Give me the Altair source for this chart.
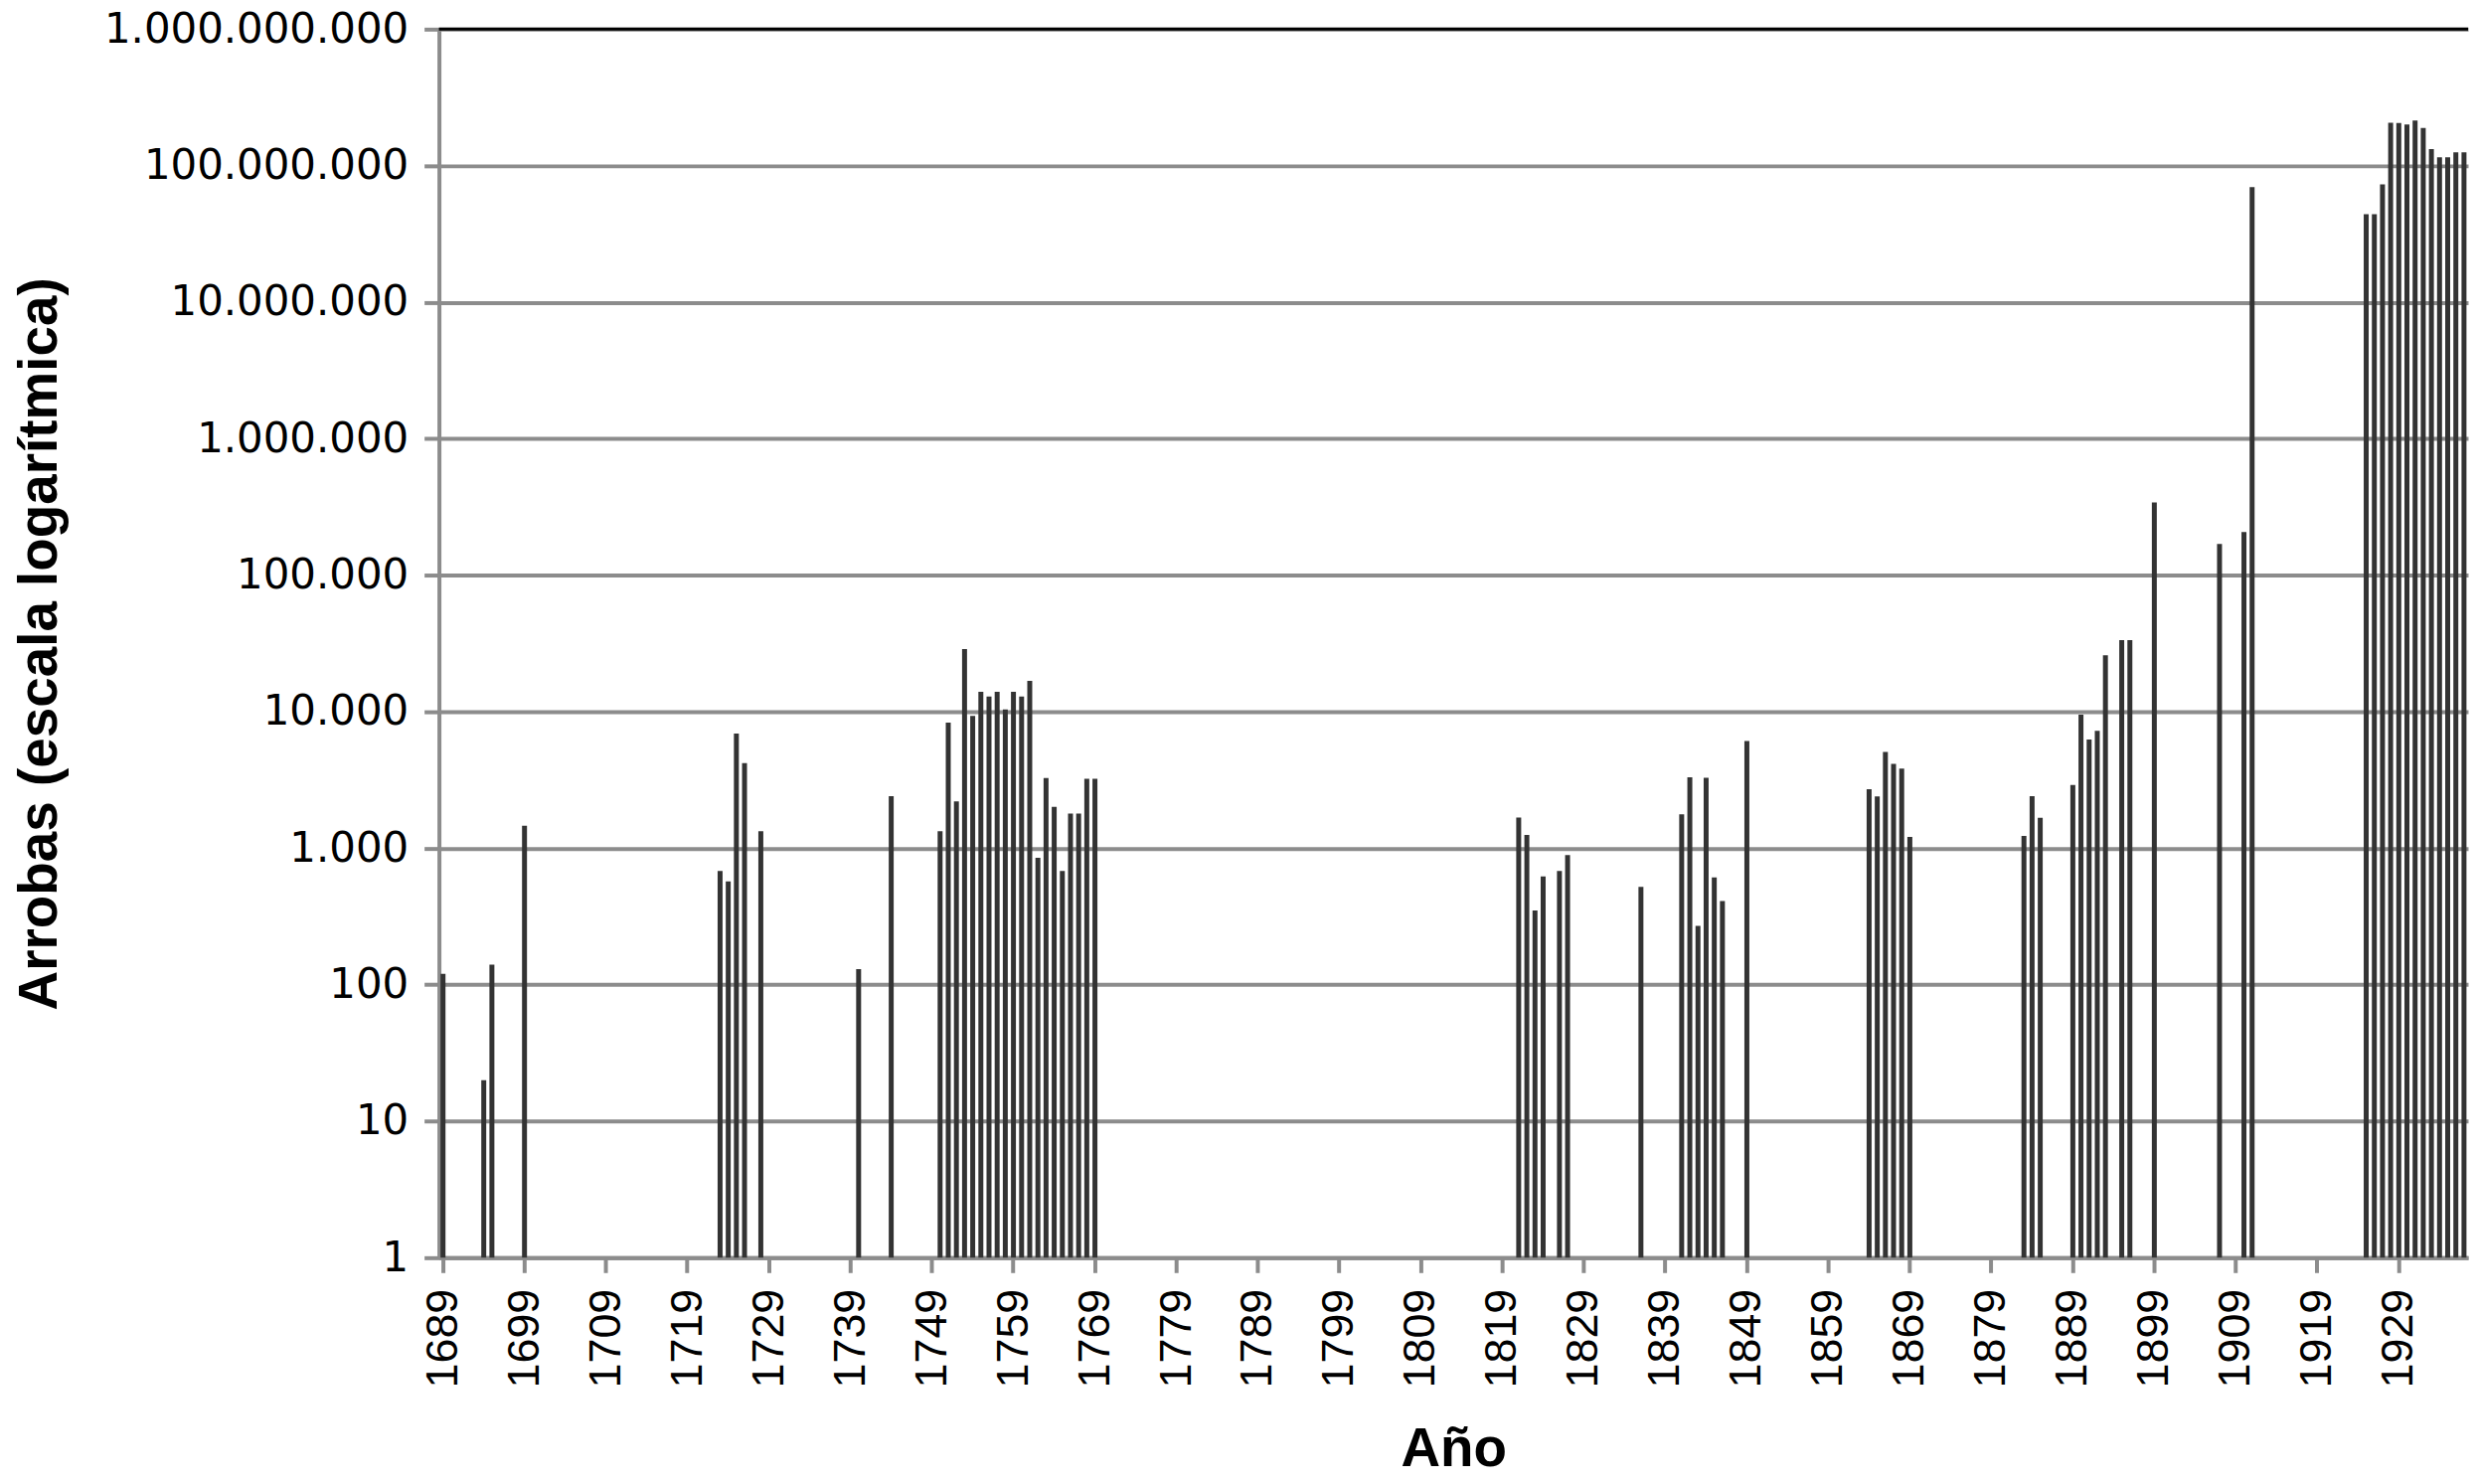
import altair as alt
import pandas as pd

# Years with exports and their amounts (arrobas)
years = [1689, 1694, 1695, 1699,
         1723, 1724, 1725, 1726, 1728,
         1740, 1744,
         1750, 1751, 1752, 1753, 1754, 1755, 1756, 1757, 1758, 1759,
         1760, 1761, 1762, 1763, 1764, 1765, 1766, 1767, 1768, 1769,
         1821, 1822, 1823, 1824, 1826, 1827,
         1836, 1841, 1842, 1843, 1844, 1845, 1846, 1849,
         1864, 1865, 1866, 1867, 1868, 1869,
         1883, 1884, 1885, 1889, 1890, 1891, 1892, 1893, 1895, 1896, 1899,
         1907, 1910, 1911,
         1925, 1926, 1927, 1928, 1929, 1930, 1931, 1932, 1933, 1934, 1935, 1936, 1937]

values = [120, 20, 140, 1460,
          680, 570, 6900, 4200, 1330,
          130, 2400,
          1330, 8300, 2200, 28700, 9300, 14000, 12900, 14000, 10400, 14000,
          12900, 16800, 850, 3260, 2010, 680, 1790, 1790, 3220, 3220,
          1680, 1250, 350, 620, 680, 890,
          520, 1770, 3300, 270, 3280, 610, 410, 6100,
          2700, 2390, 5080, 4140, 3830, 1210,
          1230, 2400, 1670, 2900, 9500, 6250, 7250, 25900, 33500, 33500, 341000,
          169000, 207000, 69700000,
          44000000, 44000000, 73000000, 206000000, 205000000, 200000000, 214000000,
          189000000, 132000000, 115000000, 115000000, 125000000, 125000000]

# Category axis: every year from 1689 to 1937
all_years = list(range(1689, 1938))
x_tick_labels = [1689, 1699, 1709, 1719, 1729, 1739, 1749, 1759, 1769, 1779, 1789,
                 1799, 1809, 1819, 1829, 1839, 1849, 1859, 1869, 1879, 1889, 1899,
                 1909, 1919, 1929]
y_tick_values = [1, 10, 100, 1000, 10000, 100000, 1000000, 10000000, 100000000, 1000000000]

df = pd.DataFrame({"year": years, "value": values})
top_df = pd.DataFrame({"v": [1000000000]})

GRAY = "#8c8c8c"

x_enc = alt.X(
    "year:O",
    scale=alt.Scale(domain=all_years, paddingInner=0.4, paddingOuter=0.2),
    axis=alt.Axis(
        values=x_tick_labels,
        labelAngle=270,
        labelAlign="right",
        labelBaseline="middle",
        labelFont="Liberation Sans",
        labelFontSize=45,
        labelColor="black",
        labelPadding=16,
        labelLimit=400,
        tickSize=15,
        tickWidth=4,
        tickColor=GRAY,
        domainColor=GRAY,
        domainWidth=4,
        grid=False,
        title="Año",
        titleFont="Liberation Sans",
        titleFontSize=55,
        titleFontWeight="bold",
        titleColor="black",
        titleY=193,
        titleBaseline="middle",
    ),
)

y_scale = alt.Scale(type="log", domain=[1, 1000000000])

bars = alt.Chart(df).mark_bar(color="#333333", width=5).encode(
    x=x_enc,
    y=alt.Y(
        "value:Q",
        scale=y_scale,
        axis=alt.Axis(
            values=y_tick_values,
            labelExpr="join(split(format(datum.value, ','), ','), '.')",
            labelFont="DejaVu Sans",
            labelFontSize=42,
            labelColor="black",
            labelPadding=16,
            labelLimit=500,
            tickSize=15,
            tickWidth=4,
            tickColor=GRAY,
            domainColor=GRAY,
            domainWidth=4,
            grid=True,
            gridColor=GRAY,
            gridWidth=4,
            title="Arrobas (escala logarítmica)",
            titleFont="Liberation Sans",
            titleFontSize=55,
            titleFontWeight="bold",
            titleColor="black",
            titleAngle=270,
            titleAlign="center",
            titleBaseline="middle",
            titleX=-403,
            titleY=620,
        ),
    ),
    y2=alt.datum(1),
)

top_line = alt.Chart(top_df).mark_rule(color="black", strokeWidth=3).encode(
    y=alt.Y("v:Q", scale=y_scale)
)

chart = alt.layer(bars, top_line).properties(
    width=2048,
    height=1240,
    autosize=alt.AutoSizeParams(type="none"),
    padding={"left": 435, "top": 19, "right": 2, "bottom": 220},
).configure_view(stroke=None)

chart.save("out.html", embed_options={"renderer": "svg", "actions": False})
